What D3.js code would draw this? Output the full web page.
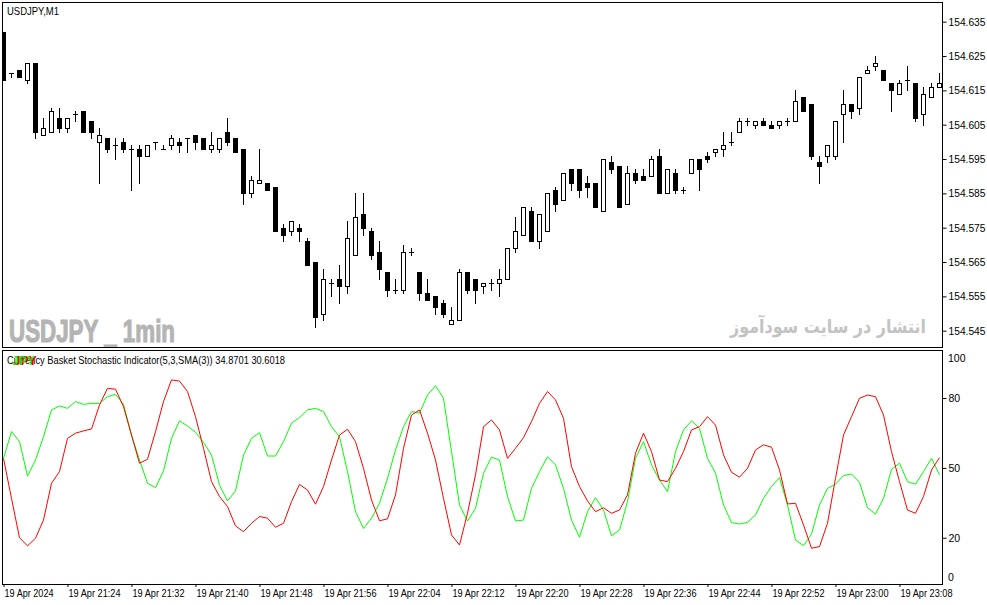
<!DOCTYPE html>
<html>
<head>
<meta charset="utf-8">
<script src="https://cdn.jsdelivr.net/npm/d3@7/dist/d3.min.js"></script>
<style>
  html, body { margin: 0; padding: 0; background: #fff; }
  svg { display: block; font-family: "Liberation Sans", Arial, sans-serif; }
</style>
</head>
<body>
<div id="chart"></div>
<script>
// USDJPY M1 candles, 19 Apr 2024 21:16 .. 23:13
const opens = [154.632,154.620,154.621,154.618,154.623,154.602,154.603,154.607,154.604,154.608,
  154.609,154.606,154.600,154.601,154.599,154.600,154.598,154.598,154.596,154.600,
  154.598,154.599,154.600,154.601,154.602,154.601,154.598,154.598,154.603,154.601,
  154.598,154.585,154.588,154.588,154.587,154.575,154.574,154.575,154.571,154.565,
  154.550,154.559,154.560,154.558,154.567,154.579,154.574,154.568,154.562,154.557,
  154.557,154.568,154.562,154.556,154.555,154.553,154.547,154.548,154.562,154.560,
  154.558,154.559,154.559,154.560,154.569,154.573,154.580,154.571,154.574,154.586,
  154.583,154.592,154.592,154.588,154.588,154.580,154.594,154.593,154.582,154.591,
  154.590,154.590,154.596,154.585,154.591,154.586,154.591,154.595,154.596,154.597,
  154.598,154.600,154.603,154.606,154.605,154.606,154.605,154.605,154.606,154.606,
  154.613,154.611,154.594,154.596,154.596,154.608,154.611,154.610,154.620,154.622,
  154.621,154.617,154.614,154.618,154.617,154.608,154.613,154.616];
const highs = [154.632,154.620,154.621,154.623,154.623,154.607,154.610,154.610,154.607,154.609,
  154.609,154.606,154.604,154.601,154.601,154.601,154.599,154.599,154.599,154.600,
  154.599,154.602,154.601,154.601,154.602,154.601,154.603,154.601,154.607,154.601,
  154.598,154.590,154.598,154.588,154.587,154.576,154.577,154.576,154.572,154.565,
  154.563,154.560,154.564,154.577,154.585,154.585,154.575,154.571,154.562,154.560,
  154.570,154.569,154.562,154.560,154.555,154.554,154.552,154.563,154.562,154.560,
  154.559,154.560,154.563,154.569,154.578,154.581,154.581,154.579,154.585,154.587,
  154.591,154.592,154.592,154.590,154.588,154.595,154.596,154.593,154.593,154.592,
  154.592,154.596,154.598,154.592,154.592,154.587,154.595,154.595,154.597,154.598,
  154.603,154.603,154.607,154.607,154.606,154.607,154.606,154.606,154.607,154.615,
  154.613,154.611,154.596,154.599,154.606,154.615,154.611,154.619,154.622,154.625,
  154.621,154.617,154.618,154.622,154.617,154.616,154.617,154.620];
const lows = [154.618,154.619,154.619,154.617,154.601,154.602,154.603,154.603,154.603,154.606,
  154.603,154.601,154.588,154.597,154.595,154.597,154.586,154.588,154.596,154.598,
  154.598,154.598,154.597,154.597,154.598,154.598,154.597,154.597,154.599,154.597,
  154.582,154.584,154.588,154.586,154.574,154.571,154.573,154.571,154.564,154.546,
  154.548,154.555,154.553,154.556,154.567,154.573,154.566,154.560,154.555,154.556,
  154.556,154.567,154.554,154.554,154.550,154.549,154.547,154.548,154.556,154.553,
  154.556,154.557,154.555,154.560,154.568,154.573,154.571,154.569,154.574,154.580,
  154.583,154.586,154.584,154.584,154.581,154.580,154.591,154.581,154.582,154.588,
  154.589,154.590,154.585,154.585,154.585,154.585,154.591,154.586,154.594,154.596,
  154.596,154.599,154.603,154.605,154.604,154.605,154.604,154.604,154.605,154.606,
  154.609,154.595,154.588,154.594,154.595,154.600,154.607,154.608,154.620,154.621,
  154.618,154.609,154.614,154.615,154.606,154.605,154.613,154.616];
const closes = [154.618,154.620,154.619,154.623,154.603,154.604,154.609,154.604,154.607,154.608,
  154.603,154.603,154.602,154.598,154.599,154.598,154.598,154.596,154.599,154.600,
  154.598,154.601,154.599,154.601,154.600,154.598,154.599,154.601,154.600,154.597,
  154.585,154.589,154.589,154.586,154.574,154.573,154.577,154.574,154.564,154.549,
  154.560,154.559,154.558,154.572,154.578,154.575,154.567,154.563,154.557,154.557,
  154.568,154.568,154.556,154.554,154.552,154.550,154.548,154.562,154.557,154.557,
  154.559,154.559,154.560,154.569,154.574,154.581,154.571,154.579,154.585,154.582,
  154.591,154.588,154.586,154.587,154.581,154.595,154.592,154.581,154.591,154.589,
  154.589,154.595,154.585,154.592,154.586,154.586,154.595,154.592,154.595,154.598,
  154.599,154.600,154.606,154.606,154.606,154.605,154.604,154.606,154.606,154.612,
  154.609,154.596,154.593,154.599,154.606,154.611,154.609,154.619,154.621,154.623,
  154.618,154.615,154.617,154.618,154.607,154.614,154.616,154.617];

// Currency basket stochastic, one value per bar
const redLine = [54.1,36.9,20.0,16.5,19.8,27.6,43.4,48.4,62.7,64.9,
  65.9,66.7,77.0,84.2,83.8,76.3,64.1,52.0,53.7,65.6,
  78.5,87.8,87.3,82.8,72.0,58.4,44.1,37.7,33.4,25.1,
  22.6,26.2,29.1,28.4,24.5,26.2,35.5,42.9,40.5,34.4,
  42.0,53.4,64.1,66.6,61.3,49.8,36.2,27.3,28.1,38.4,
  58.4,72.7,74.9,64.9,53.4,36.9,21.2,16.9,30.5,47.0,
  67.7,70.6,66.3,54.1,58.4,63.0,69.9,77.7,82.8,79.2,
  71.3,50.5,42.0,35.8,31.2,32.9,30.5,31.9,38.4,56.3,
  64.9,57.0,44.8,44.1,49.8,57.0,66.3,67.7,72.0,68.4,
  55.6,48.1,46.0,49.8,57.7,59.9,58.9,49.1,34.5,34.8,
  25.5,15.5,16.2,26.2,45.5,64.1,72.0,79.9,81.3,80.6,
  72.7,57.0,44.1,31.9,30.5,37.7,49.1,54.4];
const greenLine = [54.1,65.6,61.3,46.5,53.4,63.4,74.9,76.6,75.6,78.5,
  77.3,77.7,77.7,80.6,81.6,77.3,64.1,53.4,43.4,41.5,
  48.7,62.7,70.2,68.0,65.3,61.0,55.5,42.7,35.8,40.1,
  55.5,62.7,65.1,55.1,55.1,61.3,69.2,71.6,74.9,75.6,
  74.2,67.7,63.4,48.4,31.2,24.0,28.4,34.8,45.5,57.7,
  67.7,74.2,73.5,81.3,85.3,79.9,57.0,34.1,27.2,32.6,
  47.7,54.6,53.4,37.7,27.2,27.6,41.2,48.4,54.8,51.3,
  41.2,27.6,20.2,31.2,37.2,31.9,20.8,23.3,35.5,54.1,
  61.3,51.3,44.8,39.8,57.0,66.3,70.2,67.0,54.1,47.7,
  34.1,26.5,25.9,26.6,29.8,36.9,42.0,45.8,34.1,19.0,
  16.6,21.5,34.1,41.2,43.0,46.7,47.4,43.8,32.9,30.2,
  36.9,49.4,52.0,44.1,43.0,48.4,54.1,47.0];

const timeLabels = ["19 Apr 2024","19 Apr 21:24","19 Apr 21:32","19 Apr 21:40","19 Apr 21:48",
  "19 Apr 21:56","19 Apr 22:04","19 Apr 22:12","19 Apr 22:20","19 Apr 22:28",
  "19 Apr 22:36","19 Apr 22:44","19 Apr 22:52","19 Apr 23:00","19 Apr 23:08"];
const timeTickBars = [0,8,16,24,32,40,48,56,64,72,80,88,96,104,112];
const priceTicks = [154.635,154.625,154.615,154.605,154.595,154.585,154.575,154.565,154.555,154.545];
const stochTicks = [20,50,80];

document.addEventListener('DOMContentLoaded', function() {
    const width = 987, height = 605;
    const plotRight = 942;
    const mainTop = 2, mainBottom = 347;
    const subTop = 350, subBottom = 584;

    const svg = d3.select('#chart').append('svg')
        .attr('width', width)
        .attr('height', height);

    svg.append('rect').attr('width', width).attr('height', height).attr('fill', '#fff');

    // bar index -> x pixel
    const x = d3.scaleLinear().domain([0, opens.length - 1]).range([3, 3 + 8 * (opens.length - 1)]);
    // price scale for the main window
    const y = d3.scaleLinear().domain([154.545, 154.635]).range([330.7, 21.7]);
    // 0..100 scale for the indicator window
    const ys = d3.scaleLinear().domain([0, 100]).range([subBottom + 0.3, subTop + 1.5]);

    const defs = svg.append('defs');
    defs.append('clipPath').attr('id', 'clipMain').append('rect')
        .attr('x', 3).attr('y', mainTop + 1).attr('width', plotRight - 3).attr('height', mainBottom - mainTop - 1);
    defs.append('clipPath').attr('id', 'clipSub').append('rect')
        .attr('x', 3).attr('y', subTop + 1).attr('width', plotRight - 3).attr('height', subBottom - subTop - 1);

    // watermarks
    svg.append('text')
        .attr('x', 9).attr('y', 342)
        .attr('font-family', '"Liberation Sans Narrow", "Liberation Sans", Arial, sans-serif')
        .attr('font-weight', 'bold')
        .attr('font-size', 31)
        .attr('textLength', 166)
        .attr('lengthAdjust', 'spacingAndGlyphs')
        .attr('fill', '#b4b4b4')
        .attr('stroke', '#b4b4b4')
        .attr('stroke-width', 1.2)
        .text('USDJPY _ 1min');

    svg.append('text')
        .attr('x', 926).attr('y', 333)
        .attr('text-anchor', 'end')
        .attr('font-family', '"DejaVu Sans", sans-serif')
        .attr('font-weight', 'bold')
        .attr('font-size', 19)
        .attr('textLength', 196)
        .attr('lengthAdjust', 'spacingAndGlyphs')
        .attr('fill', '#c3c3c3')
        .text('انتشار در سایت سودآموز');

    // candles
    const candles = svg.append('g').attr('clip-path', 'url(#clipMain)').attr('shape-rendering', 'crispEdges');
    opens.forEach(function(o, i) {
        const c = closes[i];
        const cx = Math.round(x(i));
        const yh = Math.round(y(highs[i]));
        const yl = Math.round(y(lows[i]));
        const yTop = Math.round(y(Math.max(o, c)));
        const yBot = Math.round(y(Math.min(o, c)));

        candles.append('line')
            .attr('x1', cx + 0.5).attr('x2', cx + 0.5)
            .attr('y1', yh).attr('y2', yl + 1)
            .attr('stroke', '#000').attr('stroke-width', 1);

        if (o === c) {
            candles.append('line')
                .attr('x1', cx - 2).attr('x2', cx + 3)
                .attr('y1', yTop + 0.5).attr('y2', yTop + 0.5)
                .attr('stroke', '#000').attr('stroke-width', 1);
        } else if (c < o) {
            candles.append('rect')
                .attr('x', cx - 2).attr('y', yTop)
                .attr('width', 5).attr('height', Math.max(1, yBot - yTop + 1))
                .attr('fill', '#000');
        } else {
            candles.append('rect')
                .attr('x', cx - 1.5).attr('y', yTop + 0.5)
                .attr('width', 4).attr('height', Math.max(1, yBot - yTop))
                .attr('fill', '#fff').attr('stroke', '#000').attr('stroke-width', 1);
        }
    });

    // indicator lines
    const line = d3.line()
        .x((d, i) => x(i) + 0.5)
        .y(d => ys(d));
    const lines = svg.append('g').attr('clip-path', 'url(#clipSub)');
    lines.append('path').datum(greenLine)
        .attr('d', line).attr('fill', 'none').attr('stroke', '#00ff00').attr('stroke-width', 1);
    lines.append('path').datum(redLine)
        .attr('d', line).attr('fill', 'none').attr('stroke', '#ff0000').attr('stroke-width', 1);

    // window frames
    svg.append('rect')
        .attr('x', 2.5).attr('y', mainTop + 0.5)
        .attr('width', plotRight - 2.5).attr('height', mainBottom - mainTop)
        .attr('fill', 'none').attr('stroke', '#000').attr('shape-rendering', 'crispEdges');
    svg.append('rect')
        .attr('x', 2.5).attr('y', subTop + 0.5)
        .attr('width', plotRight - 2.5).attr('height', subBottom - subTop - 0.5)
        .attr('fill', 'none').attr('stroke', '#000').attr('shape-rendering', 'crispEdges');

    // price axis
    const priceAxis = svg.append('g')
        .attr('transform', 'translate(' + (plotRight + 0.5) + ',0)')
        .call(d3.axisRight(y).tickValues(priceTicks).tickFormat(d3.format('.3f')).tickSize(4).tickPadding(2));
    priceAxis.select('.domain').remove();
    priceAxis.selectAll('text').attr('textLength', 37).attr('lengthAdjust', 'spacingAndGlyphs');

    // stochastic axis
    const stochAxis = svg.append('g')
        .attr('transform', 'translate(' + (plotRight + 0.5) + ',0)')
        .call(d3.axisRight(ys).tickValues(stochTicks).tickSize(4).tickPadding(2));
    stochAxis.select('.domain').remove();
    svg.append('text').attr('x', 948).attr('y', 362).text('100');
    svg.append('text').attr('x', 948).attr('y', 581).text('0');

    // time axis
    const timeAxis = svg.append('g')
        .attr('transform', 'translate(0,' + subBottom + ')')
        .call(d3.axisBottom(x).tickValues(timeTickBars)
            .tickFormat((d, i) => timeLabels[i]).tickSize(3).tickPadding(3));
    timeAxis.select('.domain').remove();
    timeAxis.selectAll('line').attr('transform', 'translate(0.5,0)');
    timeAxis.selectAll('text').attr('text-anchor', 'start').attr('x', 1)
        .attr('textLength', (d, i) => i === 0 ? 49 : 52)
        .attr('lengthAdjust', 'spacingAndGlyphs');

    svg.selectAll('.tick text').attr('fill', '#000');
    svg.selectAll('text').attr('font-size', function() {
        return this.getAttribute('font-size') || 10.5;
    });

    // titles
    svg.append('text')
        .attr('x', 7).attr('y', 14.5)
        .attr('font-size', 10.5)
        .attr('textLength', 52)
        .attr('lengthAdjust', 'spacingAndGlyphs')
        .text('USDJPY,M1');

    svg.append('text')
        .attr('x', 7).attr('y', 364)
        .attr('font-size', 10.5)
        .attr('textLength', 278)
        .attr('lengthAdjust', 'spacingAndGlyphs')
        .text('Currency Basket Stochastic Indicator(5,3,SMA(3)) 34.8701 30.6018');
    svg.append('text')
        .attr('x', 14).attr('y', 364.5)
        .attr('font-size', 12).attr('font-weight', 'bold')
        .attr('fill', '#ff0000')
        .text('JPY');
    svg.append('text')
        .attr('x', 12).attr('y', 364.5)
        .attr('font-size', 12).attr('font-weight', 'bold')
        .attr('fill', '#00ee00')
        .attr('opacity', 0.85)
        .text('JPY');
});
</script>
</body>
</html>
